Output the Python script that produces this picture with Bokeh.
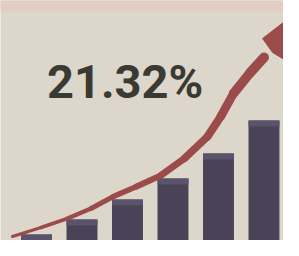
from bokeh.plotting import figure
from bokeh.models import Range1d, Label, ColumnDataSource
from bokeh.embed import file_html
from bokeh.resources import INLINE

# bar data (index, height)
bar_idx = [0, 1, 2, 3, 4, 5, 6]
bar_vals = [22, 37, 57, 78, 103, 136, 178]

# trend curve (decorative) points in index / value units
curve_x = [-0.53, 0.1, 0.68, 1.2, 1.69, 2.2, 2.73, 3.25, 3.76, 4.05, 4.33, 4.7, 5.0]
curve_y = [20, 29, 38, 48, 60, 70, 81, 98, 120, 140, 163, 184, 199]
# arrow head (tip, left barb, notch, right barb)
head_x = [5.91, 4.97, 5.19, 5.63]
head_y = [251, 218, 204, 192]
headline = "21.32%"

BG = "#dcd6cb"
ARROW = "#9a4b4a"
p = figure(width=283, height=240, output_backend="svg", toolbar_location=None,
           x_range=Range1d(-0.791, 5.429), y_range=Range1d(16, 256),
           min_border=0, background_fill_color=BG, border_fill_color=BG,
           outline_line_color=None)
p.xaxis.visible = False
p.yaxis.visible = False
p.grid.visible = False

# faint pink band at top
p.quad(left=-1, right=7, bottom=245, top=260, fill_color="#e2cdc5", line_color=None)

src = ColumnDataSource(dict(x=bar_idx, top=bar_vals))
p.vbar(x="x", top="top", bottom=0, width=0.68, source=src,
       fill_color="#4a4257", line_color=None)
# slightly lighter top face
top_src = ColumnDataSource(dict(x=bar_idx, top=bar_vals, bottom=[v - 6 for v in bar_vals]))
p.vbar(x="x", top="top", bottom="bottom", width=0.68, source=top_src,
       fill_color="#5b536b", line_color=None)

# tapered shaft
n = len(curve_x) - 1
widths = [3 + 7 * i / (n - 1) for i in range(n)]
p.segment(x0=curve_x[:-1], y0=curve_y[:-1], x1=curve_x[1:], y1=curve_y[1:],
          line_color=ARROW, line_width=widths, line_cap="round")
p.patch(head_x, head_y, fill_color=ARROW, line_color=ARROW)

p.add_layout(Label(x=0.23, y=175, text=headline, text_font="Roboto",
                   text_font_style="bold", text_font_size="47px",
                   text_baseline="alphabetic", text_color="#3b3a32"))

open("out.html", "w").write(file_html(p, INLINE))
